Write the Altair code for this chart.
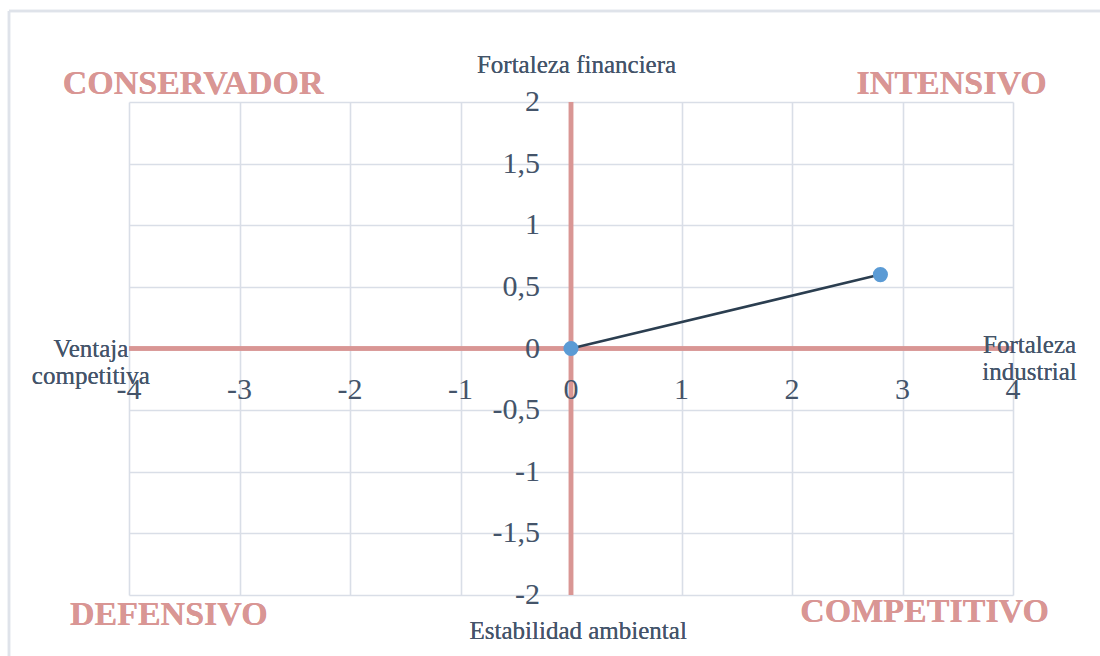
import altair as alt
import pandas as pd

# ---- data ----
x_ticks = [-4, -3, -2, -1, 0, 1, 2, 3, 4]
x_tick_labels = ["-4", "-3", "-2", "-1", "0", "1", "2", "3", "4"]
y_ticks = [-2, -1.5, -1, -0.5, 0, 0.5, 1, 1.5, 2]
y_tick_labels = ["-2", "-1,5", "-1", "-0,5", "0", "0,5", "1", "1,5", "2"]
series_x = [0, 2.8]
series_y = [0, 0.6]

SALMON = "#d99694"
TEXT = "#44546a"
GRID = "#d9dee7"
FONT = "Liberation Serif"

xs = alt.Scale(domain=[-4, 4], nice=False, zero=False)
ys = alt.Scale(domain=[-2, 2], nice=False, zero=False)

pts = pd.DataFrame({"x": series_x, "y": series_y})
xt = pd.DataFrame({"v": x_ticks, "t": x_tick_labels})
yt = pd.DataFrame({"v": y_ticks, "t": y_tick_labels})

base = alt.Chart(pts).encode(
    x=alt.X("x:Q", scale=xs,
            axis=alt.Axis(grid=True, labels=False, ticks=False, domain=False,
                          title=None, values=x_ticks, gridColor=GRID, gridWidth=1.6)),
    y=alt.Y("y:Q", scale=ys,
            axis=alt.Axis(grid=True, labels=False, ticks=False, domain=False,
                          title=None, values=y_ticks, gridColor=GRID, gridWidth=1.6)),
)

frame_top = alt.Chart(pts).mark_rule(color="#dfe3ea", strokeWidth=2.5).encode(
    x=alt.value(-120), x2=alt.value(990), y=alt.value(-91))
frame_left = alt.Chart(pts).mark_rule(color="#dfe3ea", strokeWidth=2.5).encode(
    x=alt.value(-120), y=alt.value(-91), y2=alt.value(560))

vrule = alt.Chart(pts).mark_rule(color=SALMON, strokeWidth=4.5).encode(
    x=alt.datum(0, scale=xs), y=alt.datum(-2, scale=ys), y2=alt.datum(2))
hrule = alt.Chart(pts).mark_rule(color=SALMON, strokeWidth=4.5).encode(
    y=alt.datum(0, scale=ys), x=alt.datum(-4, scale=xs), x2=alt.datum(4))

line = base.mark_line(color="#2b3e50", strokeWidth=2.5)
points = base.mark_circle(color="#5b9bd5", size=230, opacity=1)

xlab = alt.Chart(xt).mark_text(font=FONT, fontSize=30, color=TEXT, align="center",
                               baseline="middle", dy=41).encode(
    x=alt.X("v:Q", scale=xs), y=alt.datum(0, scale=ys), text="t:N")
ylab = alt.Chart(yt).mark_text(font=FONT, fontSize=30, color=TEXT, align="right",
                               baseline="middle", dx=-31).encode(
    y=alt.Y("v:Q", scale=ys), x=alt.datum(0, scale=xs), text="t:N")

def label(txt, xv, yv, size, bold=False, color=TEXT):
    return alt.Chart(pts).mark_text(
        font=FONT, fontSize=size, fontWeight="bold" if bold else "normal",
        color=color, align="center", baseline="middle", lineBreak="\n",
        lineHeight=27).encode(
        x=alt.datum(xv, scale=xs), y=alt.datum(yv, scale=ys), text=alt.value(txt))

titles = [
    label("Fortaleza financiera", 0.05, 2.30, 25),
    label("Estabilidad  ambiental", 0.065, -2.295, 25),
    label("Ventaja\ncompetitiva", -4.345, 0.0, 25),
    label("Fortaleza\nindustrial", 4.15, 0.03, 25),
    label("CONSERVADOR", -3.42, 2.145, 34, True, SALMON),
    label("INTENSIVO", 3.445, 2.145, 34, True, SALMON),
    label("DEFENSIVO", -3.64, -2.165, 34, True, SALMON),
    label("COMPETITIVO", 3.20, -2.14, 34, True, SALMON),
]

chart = alt.layer(
    base.mark_point(opacity=0), frame_top, frame_left, vrule, hrule, line, points,
    xlab, ylab, *titles
).properties(
    width=884, height=493,
    autosize=alt.AutoSizeParams(type="none"),
    padding={"left": 129, "top": 102, "right": 87, "bottom": 61},
    background="white",
).configure_view(stroke=None)

chart.save("out.html", embed_options={"renderer": "svg", "actions": False})
